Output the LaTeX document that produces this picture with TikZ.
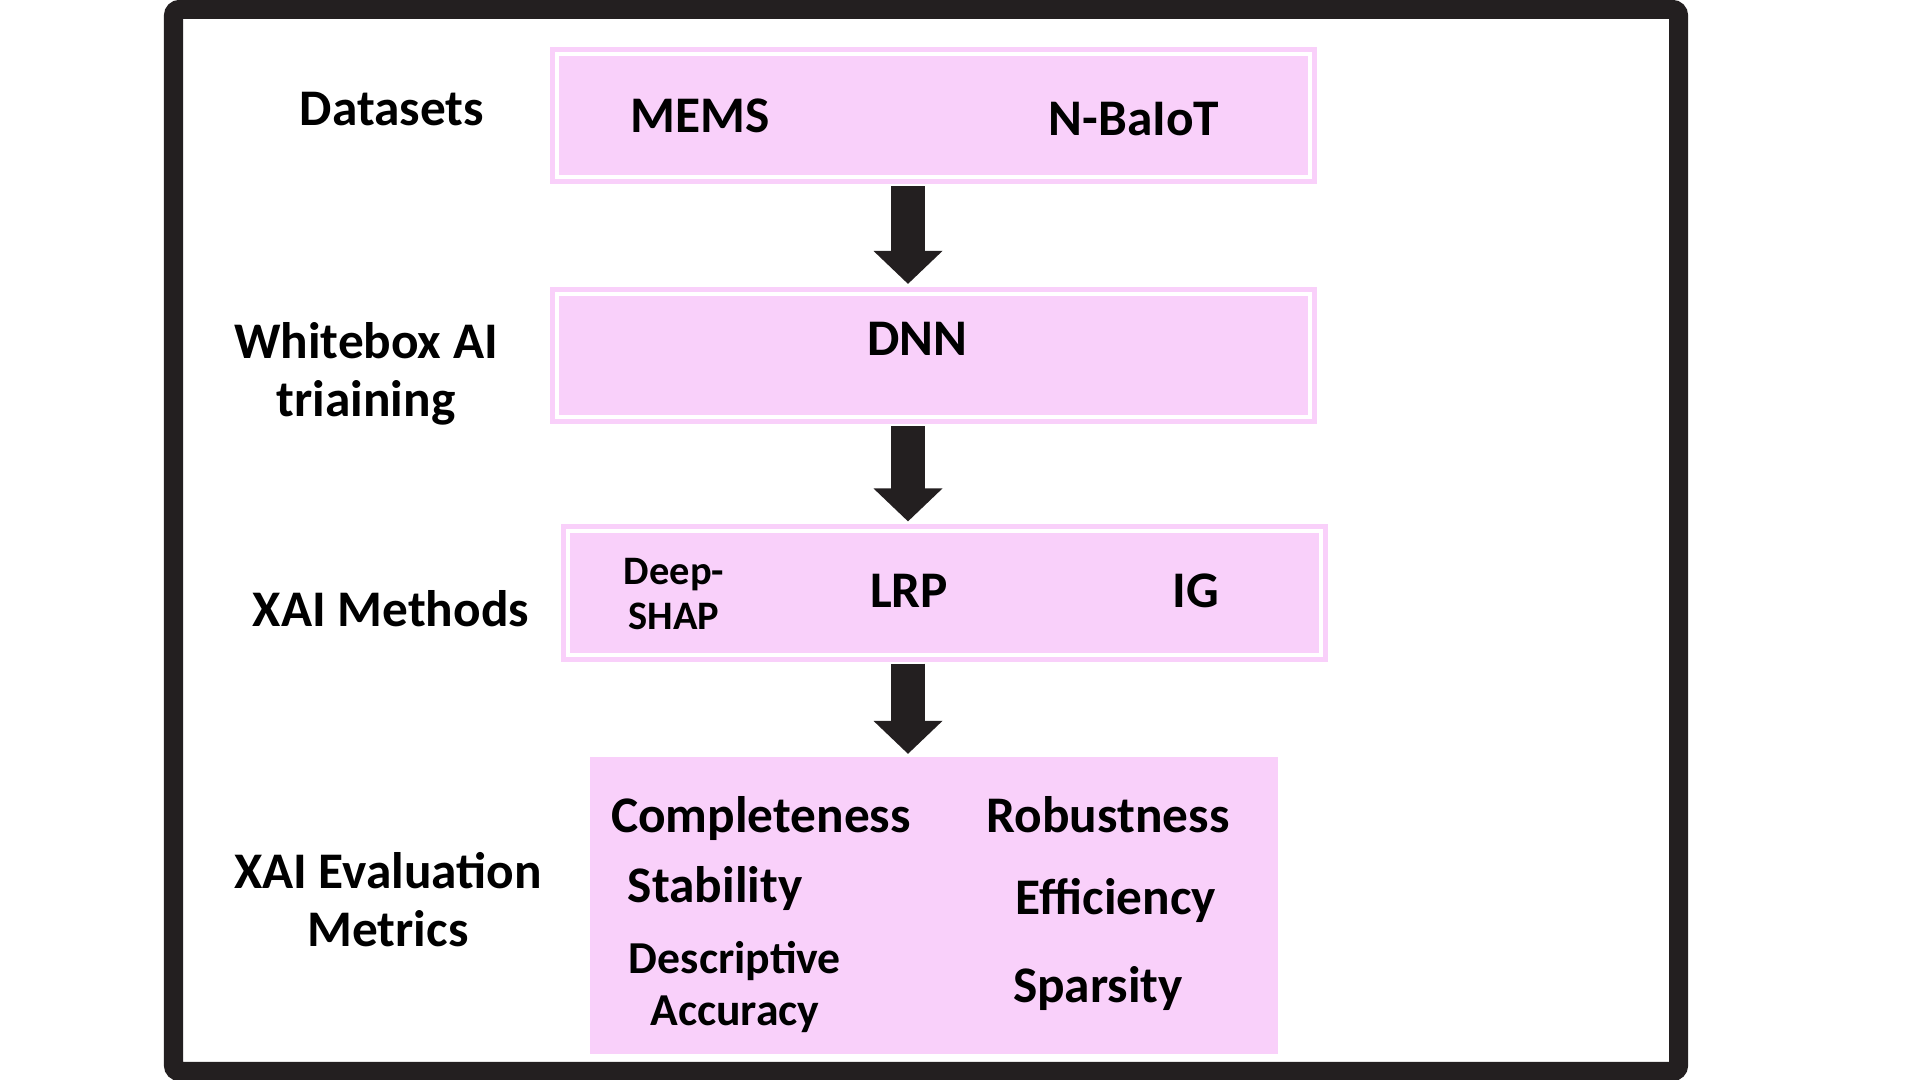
\documentclass[tikz,border=0pt]{standalone}
\usepackage{fontspec}
\setmainfont{Carlito}
\usepackage{tikz}
\usetikzlibrary{arrows.meta,positioning}
\definecolor{stagepink}{RGB}{249,208,250}
\definecolor{framedark}{RGB}{35,31,32}
\tikzstyle{flow}=[-{Triangle[length=0.33cm,width=0.67cm]},draw=framedark,line width=0.33cm,shorten <=0.02cm,shorten >=0.03cm]
\tikzstyle{stage}=[draw=stagepink,fill=stagepink,line width=0.05cm,double=white,double distance=0.04cm,outer sep=0.07cm,inner sep=0pt,minimum width=7.53cm,minimum height=1.23cm]
\tikzstyle{metricsbox}=[fill=stagepink,inner sep=0pt,outer sep=0pt,minimum width=6.88cm,minimum height=2.97cm]
\tikzstyle{caption}=[anchor=base,align=center,inner sep=0pt,font=\fontsize{14.6}{16.5}\selectfont\bfseries]
\tikzstyle{item}=[caption]
\tikzstyle{denseitem}=[item,font=\fontsize{13}{15}\selectfont\bfseries]
\tikzstyle{smallitem}=[item,font=\fontsize{11.5}{13}\selectfont\bfseries]

\begin{document}
\begin{tikzpicture}[x=0.01cm,y=-0.01cm]
    \useasboundingbox (0,0) rectangle (1920,1080);
    \draw[framedark,line width=0.19cm,rounded corners=0.06cm] (173.5,9.5) rectangle (1678.5,1071.5);

    \node[stage] (datasets) at (933.5,115.5) {};
    \node[stage] (training) at (933.5,355.5) {};
    \node[stage] (methods) at (944.5,593) {};
    \node[metricsbox] (metrics) at (934,905.5) {};

    \node[caption] (datasetslabel) at (392,126) {Datasets};
    \node[caption] (traininglabel) at (366,417) {Whitebox AI\\triaining};
    \node[caption] (methodslabel) at (391,627) {XAI Methods};
    \node[caption] (metricslabel) at (388,947) {XAI Evaluation\\Metrics};

    \node[item] (mems) at (700,133) {MEMS};
    \node[item] (nbaiot) at (1134,136) {N-BaIoT};
    \node[item] (dnn) at (917,356) {DNN};
    \node[smallitem] (deepshap) at (674,630) {Deep-\\SHAP};
    \node[item] (lrp) at (909,608) {LRP};
    \node[item] (ig) at (1196,608) {IG};
    \node[item] (completeness) at (761,833) {Completeness};
    \node[item] (robustness) at (1108,833) {Robustness};
    \node[item] (stability) at (715,903) {Stability};
    \node[item] (efficiency) at (1116,915) {Efficiency};
    \node[denseitem] (descriptive) at (735,1026) {Descriptive\\Accuracy};
    \node[item] (sparsity) at (1098,1003) {Sparsity};

    \coordinate (spine) at (908,0);
    \draw[flow] (datasets.south -| spine) -- (training.north -| spine);
    \draw[flow] (training.south -| spine) -- (methods.north -| spine);
    \draw[flow] (methods.south -| spine) -- (metrics.north -| spine);
\end{tikzpicture}
\end{document}
